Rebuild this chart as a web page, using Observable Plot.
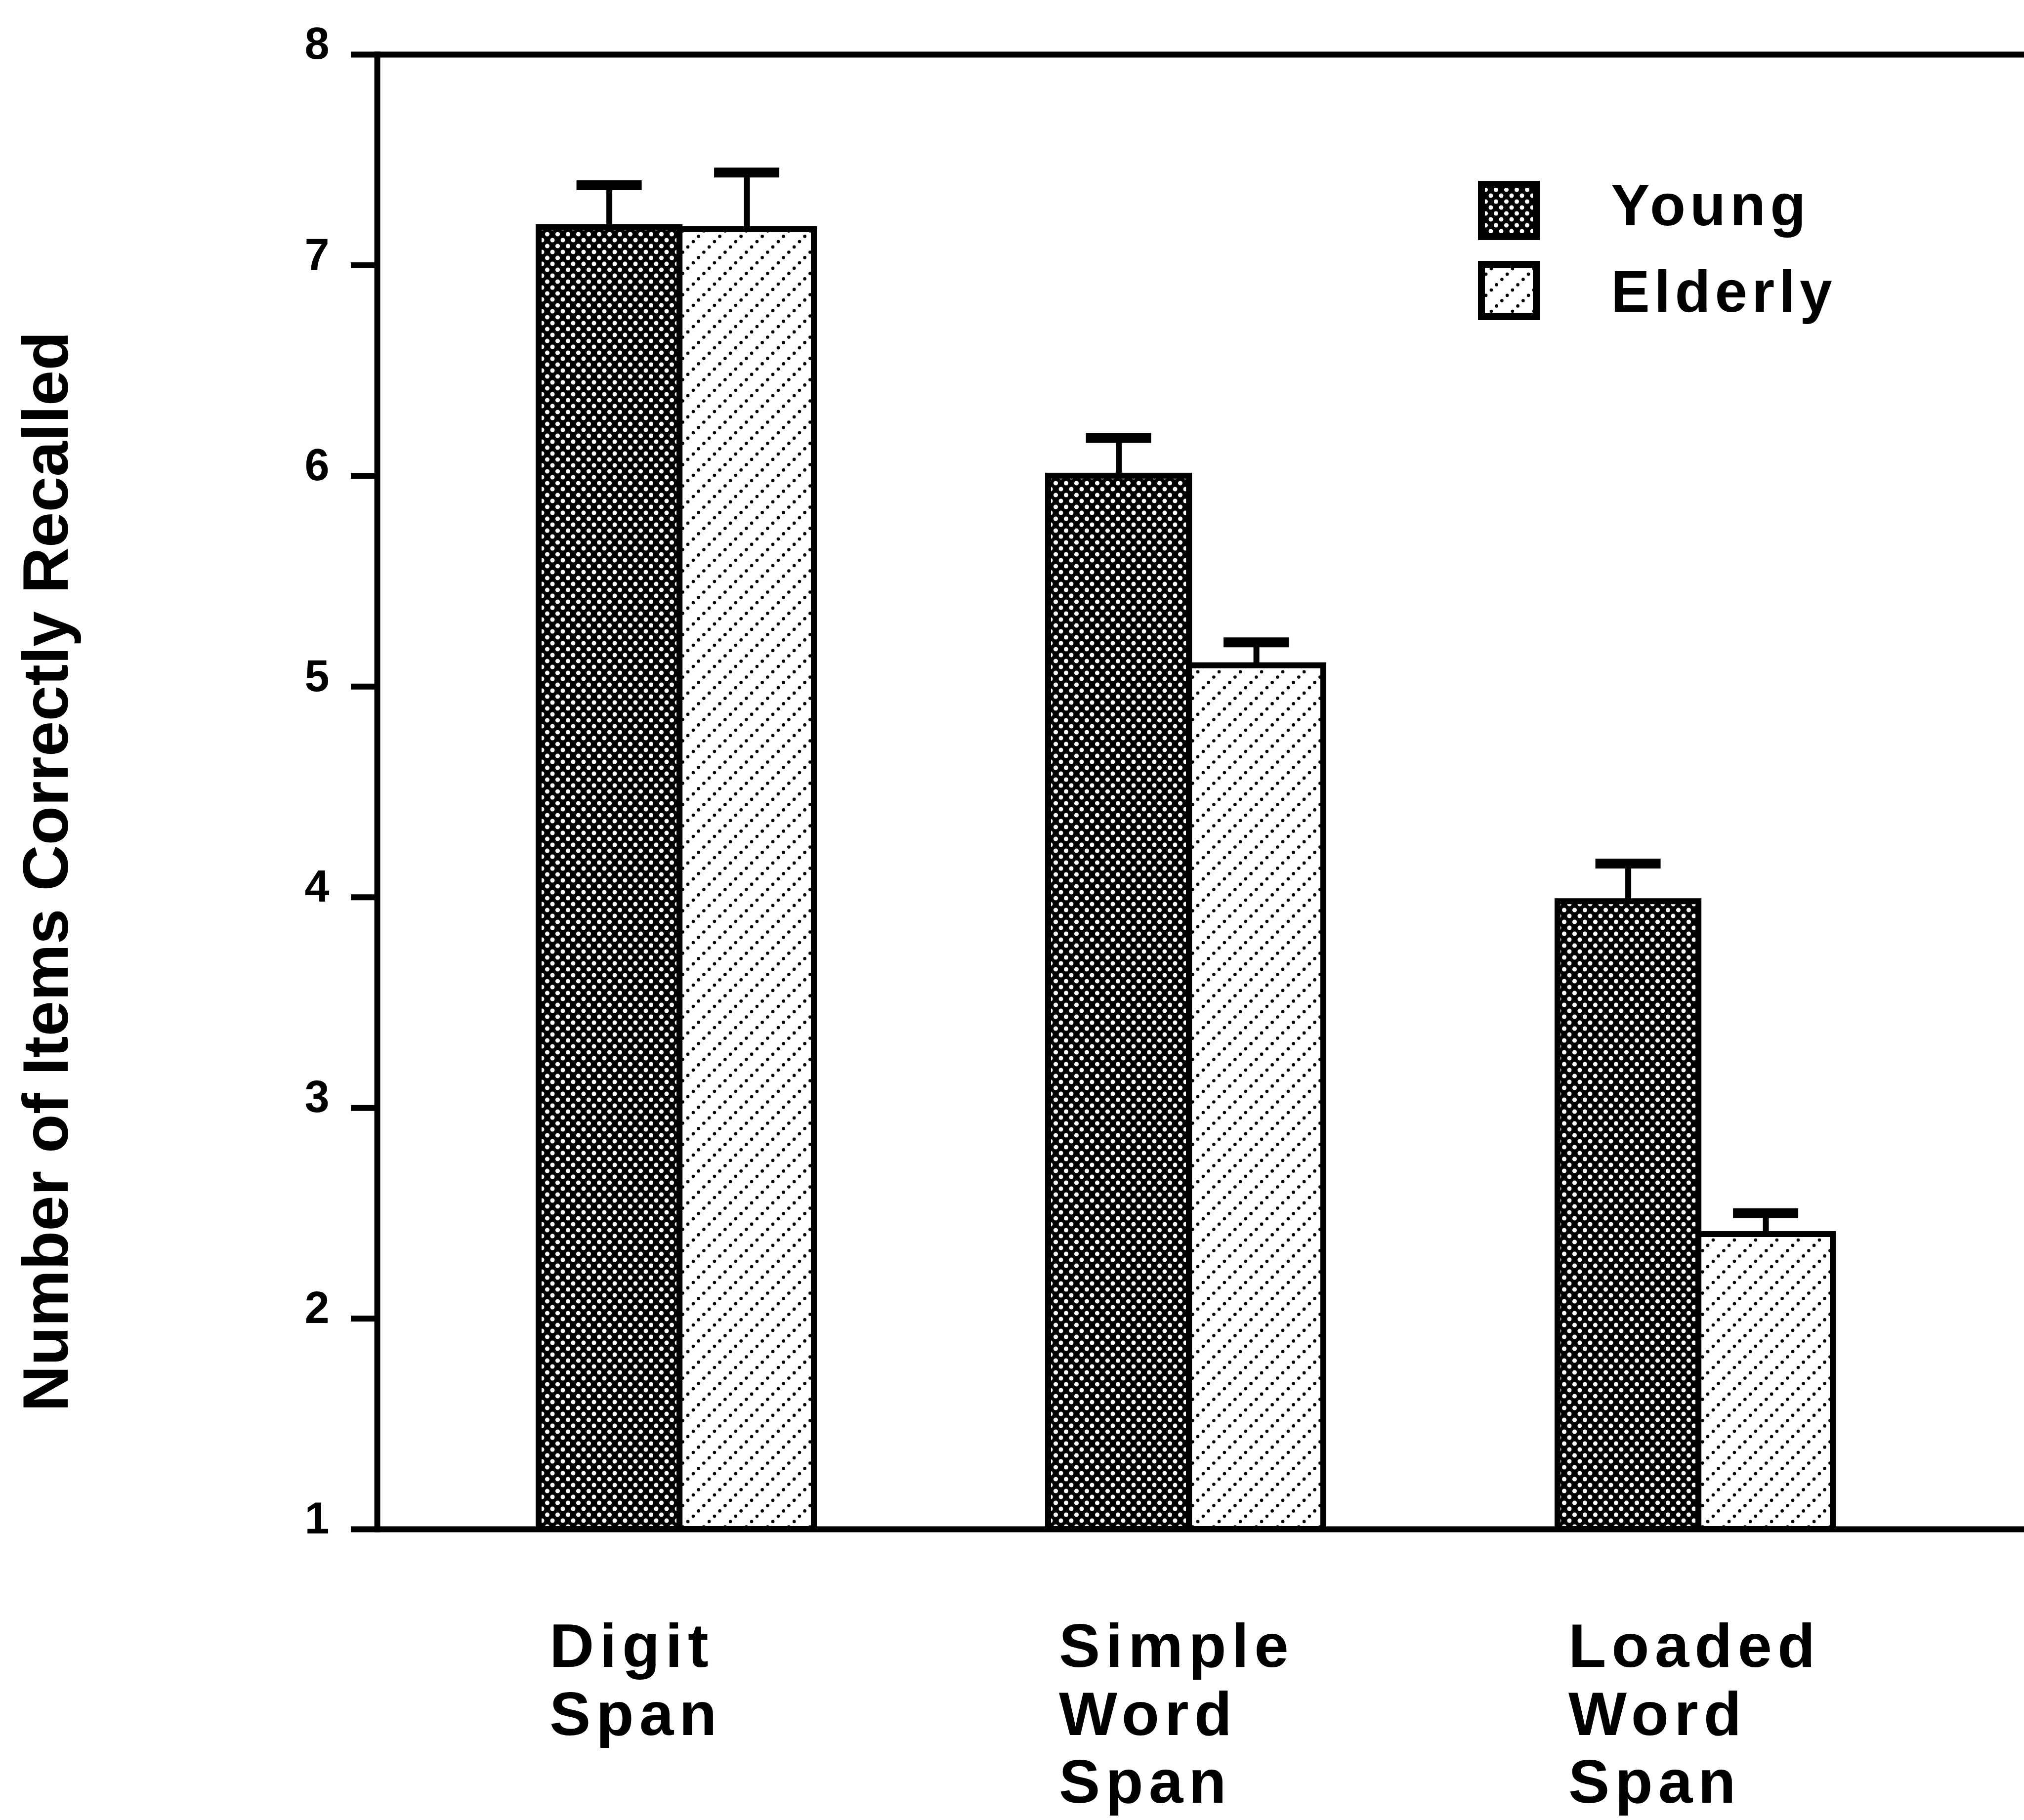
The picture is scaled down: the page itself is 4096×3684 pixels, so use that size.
<!DOCTYPE html>
<html>
<head>
<meta charset="utf-8">
<script src="https://cdn.jsdelivr.net/npm/d3@7"></script>
<script src="https://cdn.jsdelivr.net/npm/@observablehq/plot@0.6"></script>
<style>
  html, body { margin: 0; padding: 0; background: #fff; }
  #wrap { position: relative; width: 4096px; height: 3684px; font-family: "Liberation Sans", Arial, sans-serif; color: #000; }
  #wrap svg text { font-family: "Liberation Sans", Arial, sans-serif; }
  .lg-swatch { position: absolute; left: 2991px; }
  .lg-text { position: absolute; left: 3260px; font-size: 118px; line-height: 1; font-weight: 700; letter-spacing: 9px; }
</style>
</head>
<body>
<svg width="0" height="0" style="position:absolute">
  <defs>
    <pattern id="pYoung" patternUnits="userSpaceOnUse" width="21" height="24">
      <rect width="21" height="24" fill="#000"/>
      <circle cx="5" cy="6" r="4.5" fill="#fff"/>
      <circle cx="15.5" cy="18" r="4.5" fill="#fff"/>
    </pattern>
    <pattern id="pElderly" patternUnits="userSpaceOnUse" width="43" height="43">
      <rect width="43" height="43" fill="#fff"/>
      <circle cx="5.4" cy="37.6" r="3.3" fill="#000"/>
      <circle cx="16.1" cy="26.9" r="3.3" fill="#000"/>
      <circle cx="26.9" cy="16.1" r="3.3" fill="#000"/>
      <circle cx="37.6" cy="5.4" r="3.3" fill="#000"/>
    </pattern>
  </defs>
</svg>
<div id="wrap"></div>
<script>
// ---- data ----
const categories = ["Digit Span", "Simple Word Span", "Loaded Word Span"];
const categoryLabels = ["Digit\nSpan", "Simple\nWord\nSpan", "Loaded\nWord\nSpan"];
const groups = ["Young", "Elderly"];
const youngMeans = [7.18, 6.00, 3.98];
const youngErrors = [0.20, 0.18, 0.18];
const elderlyMeans = [7.17, 5.10, 2.40];
const elderlyErrors = [0.27, 0.11, 0.10];
const yTicks = [1, 2, 3, 4, 5, 6, 7, 8];
const yTitle = "Number of Items Correctly Recalled";

const rows = categories.map((c, i) => ({
  category: c,
  young: youngMeans[i],
  youngTop: youngMeans[i] + youngErrors[i],
  elderly: elderlyMeans[i],
  elderlyTop: elderlyMeans[i] + elderlyErrors[i]
}));

// ---- layout ----
const W = 4096, H = 3684;
const mL = 763, mR = 0, mT = 110, mB = 589;
const xRange = [1089, 3709];
const padInner = 0.46;
const step = (xRange[1] - xRange[0]) / (categories.length - padInner);
const bw = step * (1 - padInner);
const split = bw * 0.512;
const capHalf = 66;
const cY = split / 2;                       // young centre within band
const cE = split + (bw - split) / 2;        // elderly centre within band
const lw = 12;

const chart = Plot.plot({
  width: W, height: H,
  marginLeft: mL, marginRight: mR, marginTop: mT, marginBottom: mB,
  style: { fontFamily: "Liberation Sans, Arial, sans-serif", color: "#000", background: "#fff" },
  x: { type: "band", domain: categories, range: xRange, paddingInner: padInner, paddingOuter: 0 },
  y: { domain: [yTicks[0], yTicks[yTicks.length - 1]] },
  marks: [
    Plot.barY(rows, { x: "category", y1: yTicks[0], y2: "young", fill: "url(#pYoung)", stroke: "#000", strokeWidth: lw, insetRight: bw - split }),
    Plot.barY(rows, { x: "category", y1: yTicks[0], y2: "elderly", fill: "url(#pElderly)", stroke: "#000", strokeWidth: lw, insetLeft: split }),
    Plot.ruleX(rows, { x: "category", y1: "young", y2: "youngTop", dx: cY - bw / 2, strokeWidth: lw }),
    Plot.ruleX(rows, { x: "category", y1: "elderly", y2: "elderlyTop", dx: cE - bw / 2, strokeWidth: lw }),
    Plot.tickY(rows, { x: "category", y: "youngTop", insetLeft: cY - capHalf, insetRight: bw - cY - capHalf, strokeWidth: 20 }),
    Plot.tickY(rows, { x: "category", y: "elderlyTop", insetLeft: cE - capHalf, insetRight: bw - cE - capHalf, strokeWidth: 20 }),
    Plot.ruleY([yTicks[0], yTicks[yTicks.length - 1]], { strokeWidth: lw }),
    Plot.frame({ anchor: "left", strokeWidth: lw }),
    Plot.axisY({ ticks: yTicks, tickSize: 53, tickFormat: () => "", strokeWidth: lw, label: null }),
    Plot.text(yTicks, { y: d => d, text: d => String(d), frameAnchor: "left", textAnchor: "end", dx: -97, dy: -20, fontSize: 90, fontWeight: "bold" }),
    Plot.axisX({ tickSize: 0, tickPadding: 181, tickFormat: d => categoryLabels[categories.indexOf(d)], fontSize: 125, fontWeight: "bold", textAnchor: "start", dx: -257, lineHeight: 1.1, label: null }),
    Plot.text([yTitle], { frameAnchor: "left", rotate: -90, dx: -668, dy: 161, fontSize: 129, fontWeight: "bold", textAnchor: "middle", lineAnchor: "middle" })
  ]
});

const wrap = document.getElementById("wrap");
wrap.appendChild(chart);
chart.querySelectorAll('[aria-label="x-axis tick label"] text').forEach(t => t.style.letterSpacing = "11px");

// ---- legend ----
const legendRows = [
  { name: groups[0], fill: "url(#pYoung)", swTop: 366, txtTop: 356 },
  { name: groups[1], fill: "url(#pElderly)", swTop: 528, txtTop: 531 }
];
legendRows.forEach(r => {
  const sw = document.createElementNS("http://www.w3.org/2000/svg", "svg");
  sw.setAttribute("width", 125); sw.setAttribute("height", 120);
  sw.setAttribute("class", "lg-swatch");
  sw.style.top = r.swTop + "px";
  sw.innerHTML = `<rect x="7" y="7" width="111" height="106" fill="${r.fill}" stroke="#000" stroke-width="14"/>`;
  wrap.appendChild(sw);
  const t = document.createElement("div");
  t.className = "lg-text";
  t.style.top = r.txtTop + "px";
  t.textContent = r.name;
  wrap.appendChild(t);
});
</script>
</body>
</html>
